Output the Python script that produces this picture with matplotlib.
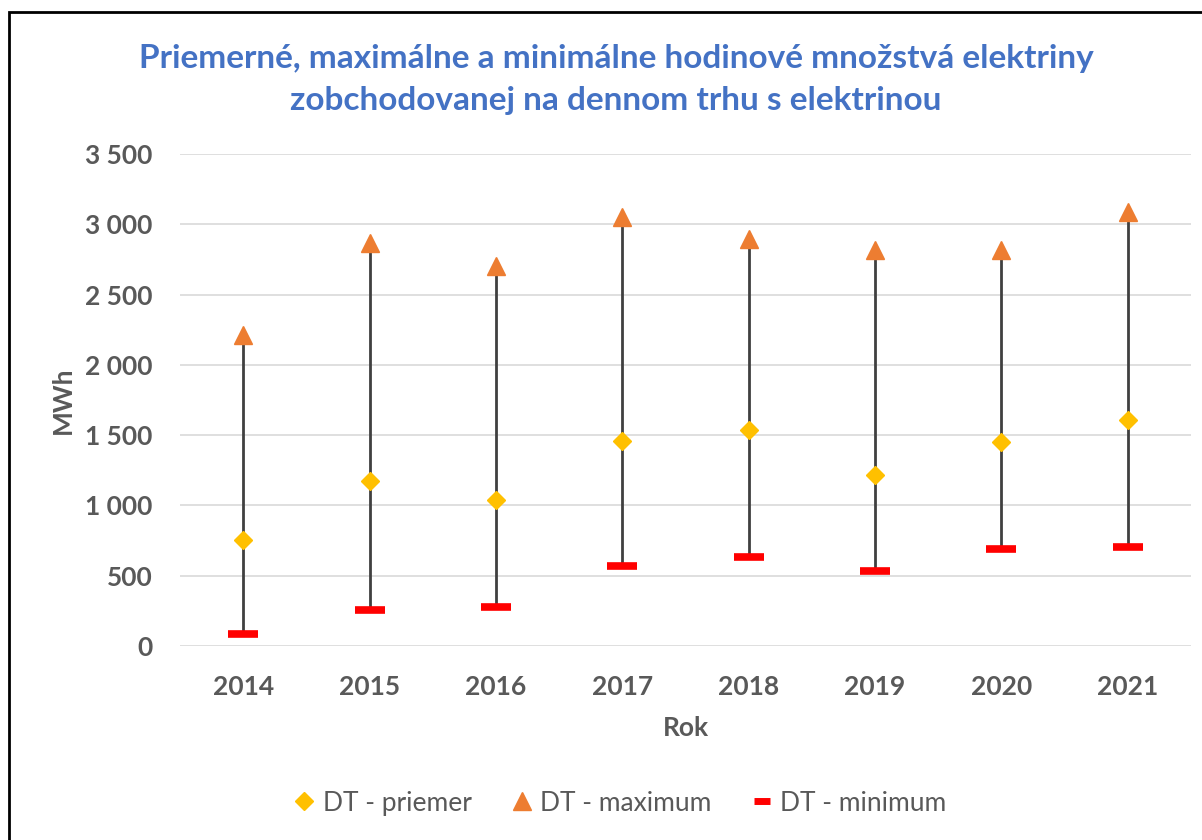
import matplotlib.pyplot as plt
from matplotlib.lines import Line2D
from matplotlib.patches import Rectangle
from matplotlib.ticker import FuncFormatter

# data
years    = ["2014", "2015", "2016", "2017", "2018", "2019", "2020", "2021"]
priemer  = [755, 1175, 1035, 1455, 1535, 1215, 1450, 1605]
maximum  = [2210, 2865, 2700, 3050, 2895, 2820, 2820, 3090]
minimum  = [85, 255, 280, 570, 635, 530, 690, 705]

TITLE = "Priemerné, maximálne a minimálne hodinové množstvá elektriny\nzobchodovanej na dennom trhu s elektrinou"

plt.rcParams["font.family"] = ["Lato", "DejaVu Sans"]
GREY = "#595959"
C_AVG, C_MAX, C_MIN = "#FFC000", "#ED7D31", "#FF0000"

fig = plt.figure(figsize=(12.02, 8.4), dpi=100)
ax = fig.add_axes([0.1498, 0.2310, 0.8410, 0.5857])

x = list(range(len(years)))
ax.vlines(x, minimum, maximum, color="#404040", linewidth=2, zorder=2)
ax.plot(x, priemer, linestyle="none", marker="D", markersize=9.5,
        color=C_AVG, zorder=3)
ax.plot(x, maximum, linestyle="none", marker="^", markersize=13,
        color=C_MAX, zorder=3)
ax.plot(x, minimum, linestyle="none", marker="_", markersize=22,
        markeredgewidth=5.5, color=C_MIN, zorder=3)

ax.set_xlim(-0.5, len(years) - 0.5)
ax.set_ylim(0, 3500)
ax.set_yticks(range(0, 3501, 500))
ax.yaxis.set_major_formatter(FuncFormatter(lambda v, p: f"{int(v):,}".replace(",", " ")))
ax.set_xticks(x)
ax.set_xticklabels(years)
ax.grid(axis="y", color="#D9D9D9", linewidth=1.2)
ax.set_axisbelow(True)
for s in ax.spines.values():
    s.set_visible(False)
ax.tick_params(length=0, labelsize=19, labelcolor=GREY)
ax.tick_params(axis="x", pad=21)
ax.tick_params(axis="y", pad=20)
for lbl in ax.get_xticklabels() + ax.get_yticklabels():
    lbl.set_fontweight("bold")

ax.set_xlabel("Rok", fontsize=19, fontweight="bold", color=GREY)
ax.xaxis.set_label_coords(0.5, -0.142)
ax.set_ylabel("MWh", fontsize=19, fontweight="bold", color=GREY)
ax.yaxis.set_label_coords(-0.104, 0.5)

fig.text(0.5125, 0.905, TITLE, ha="center", va="center", fontsize=24,
         fontweight="bold", color="#4472C4", linespacing=1.55)

handles = [
    Line2D([], [], linestyle="none", marker="D", markersize=9, color=C_AVG),
    Line2D([], [], linestyle="none", marker="^", markersize=13, color=C_MAX),
    Line2D([], [], linestyle="none", marker="_", markersize=12,
           markeredgewidth=5, color=C_MIN),
]
labels = ["DT - priemer", "DT - maximum", "DT - minimum"]
leg = fig.legend(handles, labels, loc="center", bbox_to_anchor=(0.516, 0.044),
                 ncol=3, frameon=False, fontsize=19, handlelength=0.8,
                 handletextpad=0.3, columnspacing=1.5)
for t in leg.get_texts():
    t.set_color(GREY)

# outer frame (runs off the right and bottom edges like the screenshot)
fig.patches.append(Rectangle((9 / 1202, -0.05), 1.1, 1 - 12 / 840 + 0.05,
                             transform=fig.transFigure, fill=False,
                             edgecolor="black", linewidth=2))

fig.savefig("out.png", dpi=100)
